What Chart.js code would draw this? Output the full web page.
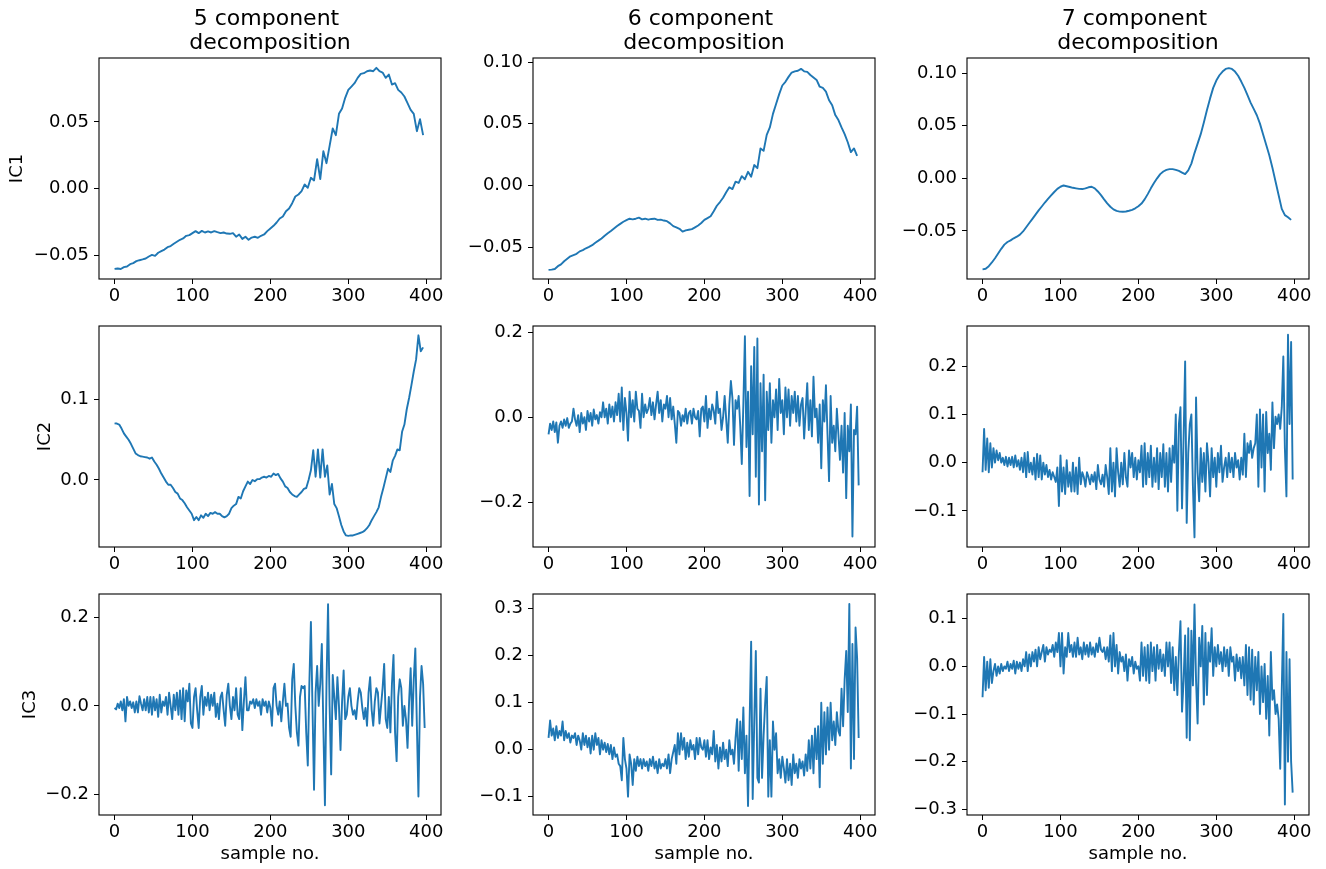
<!DOCTYPE html>
<html><head><meta charset="utf-8">
<script src="https://cdn.jsdelivr.net/npm/chart.js@4.4.0/dist/chart.umd.min.js"></script>
<style>
html,body{margin:0;padding:0;background:#fff;width:1326px;height:869px;overflow:hidden;}
canvas{position:absolute;}
</style></head><body>
<script>
// ---------- DATA ----------
const columnTitles = [["5 component ", "decomposition"], ["6 component ", "decomposition"], ["7 component ", "decomposition"]];
const rowLabels = ["IC1", "IC2", "IC3"];
const xAxisLabel = "sample no.";
const xTicks = [0, 100, 200, 300, 400];
const xTickLabels = ["0", "100", "200", "300", "400"];

// IC1, 5 components (one value every 4 samples)
const ic1_5comp = [
 -0.0603,-0.0600,-0.0604,-0.0590,-0.0585,-0.0568,-0.0560,-0.0545,-0.0538,-0.0532,
 -0.0525,-0.0510,-0.0498,-0.0505,-0.0482,-0.0470,-0.0458,-0.0440,-0.0432,-0.0415,
 -0.0400,-0.0385,-0.0375,-0.0355,-0.0350,-0.0335,-0.0320,-0.0335,-0.0318,-0.0330,
 -0.0322,-0.0330,-0.0320,-0.0328,-0.0335,-0.0330,-0.0338,-0.0340,-0.0335,-0.0362,
 -0.0345,-0.0378,-0.0362,-0.0385,-0.0368,-0.0362,-0.0370,-0.0355,-0.0345,-0.0320,
 -0.0300,-0.0280,-0.0255,-0.0225,-0.0210,-0.0170,-0.0150,-0.0110,-0.0060,-0.0045,
 -0.0020,0.0030,0.0005,0.0080,0.0060,0.0220,0.0070,0.0280,0.0190,0.0320,
 0.0450,0.0400,0.0560,0.0600,0.0680,0.0740,0.0765,0.0790,0.0830,0.0860,
 0.0865,0.0880,0.0885,0.0880,0.0905,0.0880,0.0870,0.0830,0.0855,0.0780,
 0.0790,0.0740,0.0720,0.0690,0.0640,0.0590,0.0560,0.0430,0.0520,0.0400];
// IC1, 6 components (every 4 samples)
const ic1_6comp = [
 -0.0685,-0.0683,-0.0678,-0.0655,-0.0640,-0.0615,-0.0595,-0.0575,-0.0565,-0.0555,
 -0.0535,-0.0525,-0.0510,-0.0498,-0.0485,-0.0465,-0.0448,-0.0430,-0.0408,-0.0388,
 -0.0370,-0.0350,-0.0330,-0.0312,-0.0295,-0.0282,-0.0270,-0.0275,-0.0270,-0.0262,
 -0.0275,-0.0270,-0.0278,-0.0272,-0.0270,-0.0280,-0.0278,-0.0285,-0.0290,-0.0308,
 -0.0330,-0.0340,-0.0352,-0.0375,-0.0365,-0.0360,-0.0355,-0.0340,-0.0325,-0.0305,
 -0.0280,-0.0265,-0.0250,-0.0210,-0.0165,-0.0135,-0.0100,-0.0055,-0.0015,-0.0030,
 0.0030,0.0020,0.0075,0.0050,0.0110,0.0070,0.0165,0.0140,0.0300,0.0280,
 0.0410,0.0470,0.0580,0.0660,0.0740,0.0810,0.0840,0.0880,0.0915,0.0925,
 0.0930,0.0945,0.0925,0.0920,0.0895,0.0875,0.0855,0.0800,0.0790,0.0760,
 0.0690,0.0650,0.0570,0.0530,0.0470,0.0415,0.0350,0.0270,0.0300,0.0240];
// IC1, 7 components (every 4 samples)
const ic1_7comp = [
 -0.0865,-0.0860,-0.0835,-0.0800,-0.0760,-0.0715,-0.0670,-0.0630,-0.0605,-0.0590,
 -0.0570,-0.0555,-0.0535,-0.0505,-0.0465,-0.0425,-0.0385,-0.0345,-0.0305,-0.0268,
 -0.0230,-0.0195,-0.0162,-0.0130,-0.0100,-0.0080,-0.0068,-0.0075,-0.0082,-0.0090,
 -0.0095,-0.0100,-0.0102,-0.0095,-0.0085,-0.0080,-0.0095,-0.0125,-0.0160,-0.0200,
 -0.0238,-0.0270,-0.0295,-0.0310,-0.0316,-0.0318,-0.0315,-0.0308,-0.0300,-0.0285,
 -0.0265,-0.0240,-0.0200,-0.0150,-0.0095,-0.0045,0.0000,0.0040,0.0065,0.0080,
 0.0088,0.0088,0.0080,0.0070,0.0055,0.0040,0.0075,0.0140,0.0240,0.0330,
 0.0420,0.0530,0.0650,0.0760,0.0860,0.0930,0.0980,0.1015,0.1040,0.1048,
 0.1040,0.1015,0.0975,0.0920,0.0860,0.0790,0.0720,0.0660,0.0600,0.0520,
 0.0420,0.0320,0.0220,0.0100,-0.0030,-0.0160,-0.0290,-0.0350,-0.0370,-0.0395];
// IC2, 5 components (every 3 samples)
const ic2_5comp = [
 0.0705,0.0702,0.0690,0.0640,0.0580,0.0540,0.0500,0.0450,0.0390,0.0330,
 0.0310,0.0295,0.0290,0.0285,0.0280,0.0265,0.0280,0.0230,0.0190,0.0140,
 0.0080,0.0030,-0.0020,-0.0060,-0.0060,-0.0100,-0.0150,-0.0170,-0.0230,-0.0250,
 -0.0290,-0.0340,-0.0380,-0.0420,-0.0500,-0.0460,-0.0500,-0.0440,-0.0470,-0.0420,
 -0.0450,-0.0410,-0.0420,-0.0400,-0.0420,-0.0420,-0.0450,-0.0465,-0.0450,-0.0420,
 -0.0350,-0.0320,-0.0300,-0.0210,-0.0230,-0.0140,-0.0080,-0.0020,-0.0050,0.0000,
 -0.0015,0.0010,0.0010,0.0030,0.0040,0.0030,0.0050,0.0040,0.0080,0.0060,
 0.0075,0.0020,-0.0020,-0.0080,-0.0100,-0.0150,-0.0180,-0.0200,-0.0210,-0.0180,
 -0.0150,-0.0110,-0.0100,0.0000,0.0120,0.0370,0.0040,0.0380,0.0030,0.0380,
 0.0040,0.0180,-0.0180,-0.0050,-0.0300,-0.0350,-0.0450,-0.0560,-0.0640,-0.0690,
 -0.0695,-0.0690,-0.0690,-0.0680,-0.0670,-0.0660,-0.0650,-0.0630,-0.0600,-0.0560,
 -0.0500,-0.0450,-0.0400,-0.0340,-0.0210,-0.0100,0.0020,0.0140,0.0100,0.0240,
 0.0300,0.0380,0.0370,0.0600,0.0690,0.0880,0.1020,0.1180,0.1350,0.1500,
 0.1800,0.1600,0.1650];
// IC2, 6 components (every 2 samples)
const ic2_6comp = [
 -0.040,-0.015,-0.030,-0.010,-0.035,-0.012,-0.060,-0.020,-0.010,-0.025,-0.005,-0.020,-0.002,-0.025,-0.015,-0.010,0.020,-0.005,-0.020,0.005,
 -0.035,0.010,-0.015,0.000,-0.030,0.015,-0.010,0.010,-0.020,0.018,-0.005,0.005,-0.015,0.012,0.000,0.035,0.000,0.020,-0.015,0.030,
 0.000,0.025,-0.010,0.035,0.005,0.055,-0.010,0.070,-0.030,0.045,0.010,-0.055,0.060,0.000,0.040,-0.010,0.060,0.020,0.015,-0.025,
 0.055,0.000,0.030,0.010,0.020,0.045,0.005,0.035,-0.005,0.030,0.060,0.010,0.040,-0.010,0.030,0.020,0.050,0.000,0.045,-0.005,
 0.025,-0.015,-0.060,0.015,0.010,-0.020,0.005,-0.010,0.020,-0.015,0.010,0.015,-0.015,0.020,0.000,-0.005,0.015,-0.045,0.020,0.025,
 -0.010,0.050,-0.025,0.020,-0.005,0.030,0.015,-0.015,0.060,0.010,0.020,-0.030,0.000,0.050,-0.005,-0.060,0.030,0.085,0.045,-0.065,
 0.040,0.020,0.050,-0.020,-0.110,0.030,0.190,-0.070,0.060,-0.185,0.120,-0.040,0.165,-0.140,0.185,-0.205,0.080,-0.080,0.100,-0.195,
 0.060,-0.030,0.080,-0.060,0.040,0.000,0.065,-0.030,0.090,0.010,0.040,-0.040,0.070,0.000,0.065,-0.020,0.050,0.010,0.060,-0.010,
 0.050,-0.020,0.030,0.045,-0.050,0.015,0.080,-0.030,0.040,-0.045,0.095,0.000,0.020,-0.060,0.030,-0.120,0.040,-0.010,0.075,-0.040,
 -0.150,0.050,-0.060,-0.020,-0.080,0.020,-0.040,-0.100,-0.020,-0.130,0.010,-0.190,-0.020,-0.080,0.030,-0.280,-0.030,-0.040,0.025,-0.160];
// IC2, 7 components (every 2 samples)
const ic2_7comp = [
 -0.020,0.070,-0.015,0.050,-0.020,0.040,-0.010,0.030,0.000,0.025,0.005,0.020,0.000,0.010,-0.005,0.012,-0.008,0.010,-0.005,0.012,
 -0.010,0.015,-0.008,0.005,-0.015,0.010,-0.020,0.020,-0.030,0.022,-0.020,0.000,-0.025,0.010,-0.035,0.018,-0.030,0.015,-0.035,0.000,
 -0.025,-0.005,-0.030,-0.015,-0.035,-0.020,-0.030,-0.040,-0.010,-0.090,0.015,-0.060,-0.010,-0.065,0.005,-0.050,-0.020,-0.060,0.000,-0.060,
 -0.010,-0.065,0.010,-0.045,-0.020,-0.030,-0.050,-0.020,-0.030,-0.045,-0.025,-0.040,-0.020,-0.055,-0.005,-0.035,-0.045,-0.025,-0.050,-0.005,
 -0.030,-0.065,0.030,-0.060,0.000,-0.070,0.030,-0.020,-0.050,0.000,-0.045,0.020,-0.030,-0.050,0.025,-0.010,0.020,-0.030,0.010,-0.035,
 0.005,-0.020,0.035,-0.050,0.040,-0.045,0.020,-0.030,0.035,-0.050,0.010,-0.040,0.030,-0.055,0.020,-0.030,0.038,-0.050,0.020,-0.060,
 0.030,-0.040,0.035,0.000,0.100,-0.100,0.080,0.115,-0.095,0.050,0.210,-0.125,0.020,0.080,0.100,-0.050,-0.155,0.135,-0.020,-0.080,
 0.030,-0.040,0.020,-0.060,0.040,0.000,-0.070,0.030,-0.030,0.010,-0.050,0.020,-0.020,0.035,-0.040,-0.010,0.010,-0.030,0.020,-0.020,
 0.010,-0.030,0.020,-0.010,0.005,-0.035,0.010,-0.025,0.060,-0.030,0.040,0.020,0.045,0.010,0.030,0.040,0.100,-0.050,0.110,-0.010,
 0.100,-0.060,0.105,0.020,0.060,-0.015,0.125,0.030,0.095,0.080,0.100,0.070,0.115,0.220,0.030,-0.070,0.265,0.080,0.250,-0.035];
// IC3, 5 components (every 2 samples)
const ic3_5comp = [
 -0.005,-0.008,0.005,-0.005,0.010,-0.010,0.015,-0.035,0.020,0.000,0.010,-0.005,0.008,-0.015,0.010,-0.015,0.022,0.005,-0.010,0.015,
 -0.010,0.020,-0.015,0.020,-0.020,0.020,-0.010,0.015,-0.025,0.025,-0.015,0.010,0.000,0.020,-0.020,0.030,0.000,-0.030,0.025,-0.010,
 0.030,-0.020,0.035,-0.030,0.040,-0.035,0.035,0.010,0.050,-0.040,-0.050,0.020,0.040,-0.010,-0.050,0.020,0.045,-0.020,0.020,0.000,
 0.030,-0.010,0.025,0.000,0.030,-0.025,0.005,-0.030,0.020,0.030,-0.010,-0.045,0.025,0.050,0.000,-0.030,0.020,-0.010,0.040,-0.020,
 -0.030,0.040,-0.055,0.010,0.065,-0.010,-0.010,0.010,0.005,0.015,-0.005,0.015,0.000,0.010,-0.020,0.015,0.000,0.010,-0.015,0.010,
 -0.005,-0.045,0.040,0.050,0.000,-0.020,0.010,-0.035,0.010,0.050,0.000,0.005,-0.050,-0.070,0.060,0.095,0.000,-0.060,-0.090,0.020,
 0.045,0.040,0.045,-0.060,-0.135,0.050,0.190,0.000,-0.190,0.030,0.090,0.000,0.050,0.140,-0.050,-0.225,0.050,0.230,0.000,-0.155,
 0.070,0.020,-0.030,0.065,0.000,-0.100,0.010,0.080,-0.030,-0.020,0.020,0.040,0.000,-0.020,-0.010,-0.030,0.010,0.040,0.030,-0.005,
 -0.030,-0.005,-0.045,0.030,0.065,-0.010,-0.045,0.010,0.040,0.030,-0.040,0.000,0.040,0.095,-0.030,-0.050,0.020,-0.060,0.050,0.115,
 -0.060,-0.125,0.020,0.060,0.040,-0.045,0.000,-0.030,-0.095,0.010,0.085,-0.045,0.060,0.130,-0.045,-0.205,0.020,0.090,0.050,-0.050];
// IC3, 6 components (every 2 samples)
const ic3_6comp = [
 0.025,0.062,0.030,0.045,0.020,0.050,0.025,0.040,0.030,0.060,0.020,0.040,0.025,0.035,0.015,0.030,0.025,0.035,0.010,0.030,
 0.020,0.000,0.035,0.010,0.030,0.005,0.025,-0.008,0.030,0.000,0.035,0.010,0.025,-0.010,0.020,0.000,0.015,-0.005,0.012,-0.010,
 0.010,-0.020,0.005,-0.015,-0.010,-0.030,-0.035,-0.065,0.025,-0.020,-0.040,-0.100,-0.010,-0.030,-0.075,-0.020,-0.045,-0.015,-0.035,-0.020,
 -0.040,-0.020,-0.035,-0.025,-0.045,-0.020,-0.035,-0.015,-0.040,-0.025,-0.050,-0.020,-0.040,-0.030,-0.035,-0.020,-0.040,-0.010,-0.050,-0.020,
 -0.005,0.010,-0.030,0.035,-0.010,0.035,0.000,0.025,-0.020,0.015,-0.015,0.020,0.000,0.010,-0.020,0.025,-0.010,0.025,0.005,0.000,
 0.020,-0.015,0.020,-0.020,0.005,-0.010,0.040,-0.025,0.010,-0.040,0.005,-0.025,0.015,-0.020,0.000,-0.035,0.020,-0.010,0.000,-0.030,
 0.025,0.065,-0.045,0.060,-0.020,0.090,-0.050,0.030,-0.120,0.055,0.230,-0.105,0.060,0.210,-0.060,-0.070,0.130,-0.060,0.030,0.100,
 0.155,-0.100,0.020,-0.100,0.060,0.000,0.035,-0.050,-0.020,-0.060,-0.015,-0.040,-0.070,-0.020,-0.065,-0.030,-0.075,-0.010,-0.050,-0.030,
 -0.060,-0.020,-0.040,-0.025,-0.055,-0.010,-0.045,0.020,-0.040,0.030,-0.050,0.045,-0.020,0.050,-0.080,0.100,-0.030,0.080,-0.010,0.090,
 0.000,0.100,0.020,0.060,0.010,0.080,0.040,0.030,0.130,0.050,0.150,0.210,0.080,0.310,-0.040,0.225,-0.020,0.260,0.195,0.025];
// IC3, 7 components (every 2 samples)
const ic3_7comp = [
 -0.065,0.020,-0.050,0.010,-0.045,0.015,-0.035,-0.010,0.005,-0.020,0.000,-0.015,0.005,-0.010,0.000,-0.005,0.010,-0.010,0.005,-0.005,
 0.012,-0.015,0.010,-0.005,0.008,-0.010,0.015,0.000,0.030,-0.010,0.025,0.000,0.030,0.010,0.035,0.000,0.040,0.015,0.030,0.045,
 0.010,0.040,0.025,0.035,0.030,0.045,0.020,0.050,0.030,0.070,0.000,0.070,-0.015,0.040,0.020,0.070,0.030,0.045,0.020,0.050,
 0.020,0.060,0.025,0.040,0.015,0.050,0.025,0.045,0.020,0.050,0.025,0.040,0.020,0.048,0.030,0.060,0.035,0.030,0.040,0.015,
 0.040,0.010,0.065,-0.010,0.070,0.000,0.045,-0.015,0.030,0.010,0.020,-0.010,0.025,-0.030,0.015,0.000,0.020,-0.015,0.010,-0.005,
 0.000,-0.030,0.050,-0.020,0.040,-0.030,0.045,-0.035,0.050,-0.010,0.040,-0.030,0.045,-0.005,0.035,-0.010,0.025,-0.020,0.050,0.000,
 0.050,-0.035,0.040,-0.050,0.020,-0.060,0.030,0.095,-0.095,-0.030,0.065,-0.150,0.080,-0.155,0.075,-0.040,0.130,-0.030,-0.120,0.060,
 0.000,0.085,-0.080,0.070,-0.060,0.050,0.010,0.080,-0.020,0.040,0.000,0.045,0.005,0.030,-0.010,0.040,0.000,0.035,-0.020,0.040,
 0.010,0.020,-0.030,0.025,-0.010,0.018,-0.025,0.020,-0.040,0.045,-0.060,0.040,-0.070,0.035,-0.080,0.020,-0.050,0.030,-0.100,0.000,
 -0.075,0.005,-0.110,-0.020,-0.145,0.030,-0.070,-0.050,-0.100,-0.080,-0.110,-0.215,-0.050,0.110,-0.290,0.030,-0.200,0.015,-0.200,-0.265];

// y tick values and labels per panel
const yTicks_ic1_5 = [-0.05, 0, 0.05];          const yTickLabels_ic1_5 = ["\u22120.05", "0.00", "0.05"];
const yTicks_ic1_6 = [-0.05, 0, 0.05, 0.10];    const yTickLabels_ic1_6 = ["\u22120.05", "0.00", "0.05", "0.10"];
const yTicks_ic1_7 = [-0.05, 0, 0.05, 0.10];    const yTickLabels_ic1_7 = ["\u22120.05", "0.00", "0.05", "0.10"];
const yTicks_ic2_5 = [0, 0.1];                  const yTickLabels_ic2_5 = ["0.0", "0.1"];
const yTicks_ic2_6 = [-0.2, 0, 0.2];            const yTickLabels_ic2_6 = ["\u22120.2", "0.0", "0.2"];
const yTicks_ic2_7 = [-0.1, 0, 0.1, 0.2];       const yTickLabels_ic2_7 = ["\u22120.1", "0.0", "0.1", "0.2"];
const yTicks_ic3_5 = [-0.2, 0, 0.2];            const yTickLabels_ic3_5 = ["\u22120.2", "0.0", "0.2"];
const yTicks_ic3_6 = [-0.1, 0, 0.1, 0.2, 0.3];  const yTickLabels_ic3_6 = ["\u22120.1", "0.0", "0.1", "0.2", "0.3"];
const yTicks_ic3_7 = [-0.3, -0.2, -0.1, 0, 0.1]; const yTickLabels_ic3_7 = ["\u22120.3", "\u22120.2", "\u22120.1", "0.0", "0.1"];

// ---------- LAYOUT ----------
const FONT = "'DejaVu Sans', 'Liberation Sans', sans-serif";
Chart.defaults.color = '#000';
Chart.defaults.font.family = FONT;
const colLeft = [99, 533, 967], rowTop = [58, 326, 594];
const PW = 342, PH = 221, ML = 99, MR = 20, MB = 56;
const MT = [60, 32, 32];
const yLabelX = [17, 45.5, 30.8];
const xRange = [-19.95, 418.95];

const panels = [
  {row:0,col:0,data:ic1_5comp,step:4,yr:[-0.0679,0.0979],yt:yTicks_ic1_5,yl:yTickLabels_ic1_5},
  {row:0,col:1,data:ic1_6comp,step:4,yr:[-0.0759,0.1033],yt:yTicks_ic1_6,yl:yTickLabels_ic1_6},
  {row:0,col:2,data:ic1_7comp,step:4,yr:[-0.0957,0.1144],yt:yTicks_ic1_7,yl:yTickLabels_ic1_7},
  {row:1,col:0,data:ic2_5comp,step:3,yr:[-0.0834,0.1916],yt:yTicks_ic2_5,yl:yTickLabels_ic2_5},
  {row:1,col:1,data:ic2_6comp,step:2,yr:[-0.3047,0.2142],yt:yTicks_ic2_6,yl:yTickLabels_ic2_6},
  {row:1,col:2,data:ic2_7comp,step:2,yr:[-0.175,0.2833],yt:yTicks_ic2_7,yl:yTickLabels_ic2_7},
  {row:2,col:0,data:ic3_5comp,step:2,yr:[-0.2469,0.253],yt:yTicks_ic3_5,yl:yTickLabels_ic3_5},
  {row:2,col:1,data:ic3_6comp,step:2,yr:[-0.139,0.3313],yt:yTicks_ic3_6,yl:yTickLabels_ic3_6},
  {row:2,col:2,data:ic3_7comp,step:2,yr:[-0.312,0.1519],yt:yTicks_ic3_7,yl:yTickLabels_ic3_7}
];

const framePlugin = {
  id: 'frame',
  afterDraw(chart, args, opts) {
    const ctx = chart.ctx, a = chart.chartArea;
    ctx.save();
    ctx.strokeStyle = '#000'; ctx.lineWidth = 1.1;
    ctx.strokeRect(a.left, a.top, a.right - a.left, a.bottom - a.top);
    ctx.fillStyle = '#000';
    const cx = (a.left + a.right) / 2;
    if (opts.title) {
      ctx.font = '22px ' + FONT; ctx.textAlign = 'center'; ctx.textBaseline = 'alphabetic';
      ctx.fillText(opts.title[0], cx, a.top - 33);
      ctx.fillText(opts.title[1], cx, a.top - 9);
    }
    if (opts.xLabel) {
      ctx.font = '18px ' + FONT; ctx.textAlign = 'center'; ctx.textBaseline = 'alphabetic';
      ctx.fillText(opts.xLabel, cx, a.bottom + 44);
    }
    if (opts.yLabel) {
      ctx.font = '18px ' + FONT;
      ctx.translate(opts.yLabelX, (a.top + a.bottom) / 2);
      ctx.rotate(-Math.PI / 2);
      ctx.textAlign = 'center'; ctx.textBaseline = 'middle';
      ctx.fillText(opts.yLabel, 0, 0);
    }
    ctx.restore();
  }
};

panels.forEach(p => {
  const cv = document.createElement('canvas');
  const w = ML + PW + MR, h = MT[p.row] + PH + MB;
  cv.width = w; cv.height = h;
  cv.style.width = w + 'px'; cv.style.height = h + 'px';
  cv.style.left = (colLeft[p.col] - ML) + 'px';
  cv.style.top = (rowTop[p.row] - MT[p.row]) + 'px';
  document.body.appendChild(cv);
  const pts = p.data.map((v, i) => ({x: i * p.step, y: v}));
  new Chart(cv, {
    type: 'line',
    data: { datasets: [{ data: pts, borderColor: '#1f77b4', borderWidth: 1.9, pointRadius: 0,
      fill: false, tension: 0, borderJoinStyle: 'round', borderCapStyle: 'butt' }] },
    options: {
      responsive: false, animation: false, devicePixelRatio: 1, events: [],
      layout: { padding: { left: 0, right: MR, top: MT[p.row], bottom: 0 } },
      plugins: {
        legend: { display: false }, tooltip: { enabled: false }, title: { display: false },
        frame: {
          title: p.row === 0 ? columnTitles[p.col] : null,
          xLabel: p.row === 2 ? xAxisLabel : null,
          yLabel: p.col === 0 ? rowLabels[p.row] : null,
          yLabelX: yLabelX[p.row]
        }
      },
      scales: {
        x: {
          type: 'linear', min: xRange[0], max: xRange[1],
          afterBuildTicks: s => { s.ticks = xTicks.map(v => ({value: v})); },
          afterFit: s => { s.height = MB; },
          ticks: { autoSkip: false, maxRotation: 0, minRotation: 0, padding: 2, color: '#000',
            font: { size: 18, family: FONT }, callback: (v, i) => xTickLabels[i] },
          grid: { display: true, drawOnChartArea: false, drawTicks: true, tickLength: 5, color: '#000', lineWidth: 1 },
          border: { display: false }
        },
        y: {
          type: 'linear', min: p.yr[0], max: p.yr[1],
          afterBuildTicks: s => { s.ticks = p.yt.map(v => ({value: v})); },
          afterFit: s => { s.width = ML; },
          ticks: { autoSkip: false, padding: 5, color: '#000',
            font: { size: 18, family: FONT }, callback: (v, i) => p.yl[i] },
          grid: { display: true, drawOnChartArea: false, drawTicks: true, tickLength: 5, color: '#000', lineWidth: 1 },
          border: { display: false }
        }
      }
    },
    plugins: [framePlugin]
  });
});
</script>
</body></html>
